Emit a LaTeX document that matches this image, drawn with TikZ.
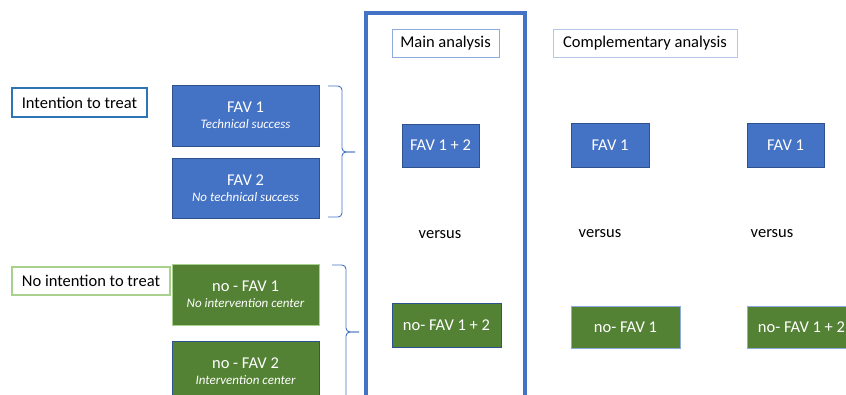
\documentclass[tikz,border=0pt]{standalone}
\usepackage{fontspec}
\setmainfont{Carlito}
\definecolor{favblue}{HTML}{4472C4}
\definecolor{favedge}{HTML}{2F528F}
\definecolor{favgreen}{HTML}{548235}
\definecolor{lightgreen}{HTML}{A9D18E}
\definecolor{ittblue}{HTML}{2E75B6}
\definecolor{lightblue}{HTML}{8FAADC}
\definecolor{greyblue}{HTML}{B4C7E7}
\newcommand\subtxt[1]{{\fontsize{13}{14}\selectfont\itshape #1}}

\begin{document}
\begin{tikzpicture}[x=1pt, y=-1pt,
  favbox/.style={rectangle, draw=favedge, line width=0.8pt, fill=favblue, text=white,
    inner sep=0pt, align=center, font=\fontsize{16.5}{17}\selectfont},
  nofavbox/.style={favbox, fill=favgreen},
  tagbox/.style={rectangle, draw, fill=white, inner sep=0pt, font=\fontsize{16.5}{17}\selectfont},
  bracket/.style={draw=favblue, line width=0.9pt, rounded corners=4pt},
  vs/.style={font=\fontsize{16.5}{17}\selectfont}]
\useasboundingbox (0,0) rectangle (846,394);
\clip (0,0) rectangle (846,394);

%left column: groups
\node at (79.5, 102.5) [tagbox, draw=ittblue, line width=2.5pt, minimum width=135, minimum height=29] (itt) {Intention to treat};
\node at (245.5, 115.5) [favbox, minimum width=147, minimum height=61] (fav1) {FAV 1\\[-1pt] \subtxt{Technical success}};
\node at (245.5, 188) [favbox, minimum width=147, minimum height=60] (fav2) {FAV 2\\[-1pt] \subtxt{No technical success}};

\node at (91, 281) [tagbox, draw=lightgreen, line width=2.5pt, minimum width=158, minimum height=28] (nitt) {No intention to treat};
\node at (245.5, 294.5) [nofavbox, draw=lightgreen, minimum width=147, minimum height=61] (nofav1) {no - FAV 1\\[-1pt] \subtxt{No intervention center}};
\node at (245.5, 371.5) [nofavbox, minimum width=147, minimum height=61] (nofav2) {no - FAV 2\\[-1pt] \subtxt{Intervention center}};

%braces
\coordinate (b1top) at (328, 86);
\coordinate (b1mid) at (342, 152);
\coordinate (b1tip) at (355, 152);
\coordinate (b1bot) at (328, 217);
\draw [bracket] (b1top) -| (b1mid) -- (b1tip);
\draw [bracket] (b1bot) -| (b1mid) -- (b1tip);

\coordinate (b2top) at (332, 265);
\coordinate (b2mid) at (346, 332);
\coordinate (b2tip) at (359, 332);
\coordinate (b2bot) at (332, 399);
\draw [bracket] (b2top) -| (b2mid) -- (b2tip);
\draw [bracket] (b2bot) -| (b2mid) -- (b2tip);

%main analysis
\draw [favblue, line width=3.2pt] (366, 13) rectangle (525, 420);
\node at (445.5, 43) [tagbox, draw=lightblue, line width=0.8pt, minimum width=107, minimum height=28] (main) {Main analysis};
\node at (440.5, 145.5) [favbox, minimum width=77, minimum height=43] (fav12) {FAV 1 + 2};
\node at (440, 235) [vs] (vs1) {versus};
\node at (446.5, 325) [nofavbox, minimum width=109, minimum height=44] (nofav12) {no- FAV 1 + 2};

%complementary analysis
\node at (645, 43) [tagbox, draw=greyblue, line width=0.8pt, minimum width=184, minimum height=28] (comp) {Complementary analysis};
\node at (610, 145) [favbox, minimum width=78, minimum height=44] (favA) {FAV 1};
\node at (600, 234) [vs] (vs2) {versus};
\node at (625.5, 327) [nofavbox, draw=lightblue, minimum width=109, minimum height=42] (nofavA) {no- FAV 1};

\node at (785.5, 145) [favbox, minimum width=77, minimum height=44] (favB) {FAV 1};
\node at (772, 234) [vs] (vs3) {versus};
\node at (801.5, 327) [nofavbox, draw=lightblue, minimum width=109, minimum height=42] (nofavB) {no- FAV 1 + 2};
\end{tikzpicture}
\end{document}
